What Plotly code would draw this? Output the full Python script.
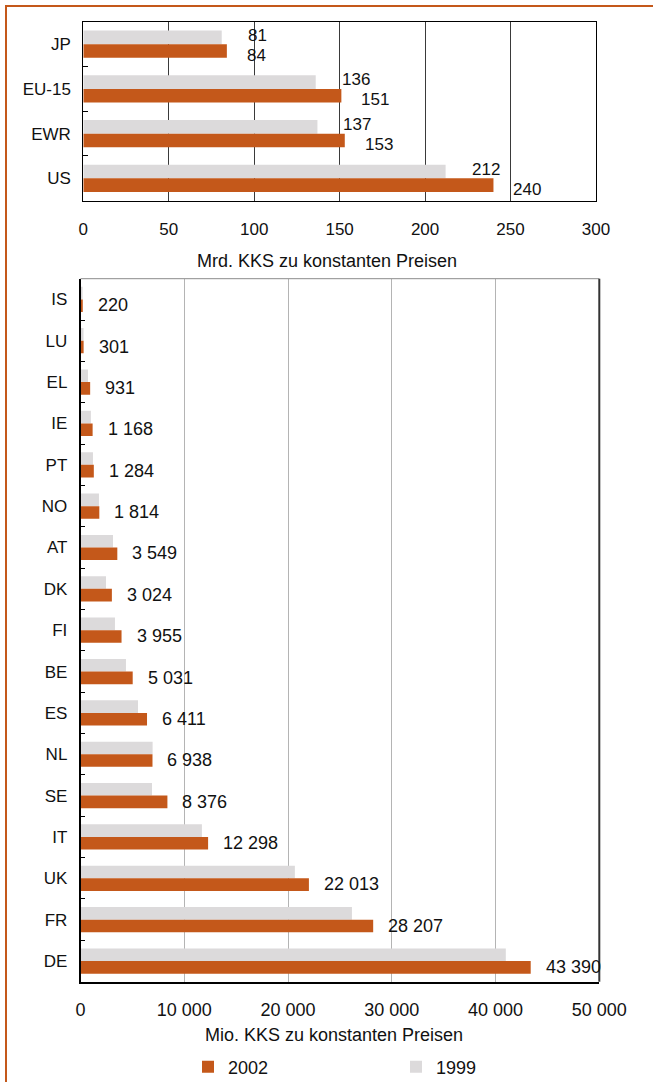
import plotly.graph_objects as go

# ---------------- data ----------------
top_regions = ["JP", "EU-15", "EWR", "US"]
top_1999 = [81, 136, 137, 212]
top_2002 = [84, 151, 153, 240]

countries = ["IS", "LU", "EL", "IE", "PT", "NO", "AT", "DK", "FI", "BE",
             "ES", "NL", "SE", "IT", "UK", "FR", "DE"]
c_1999 = [200, 290, 720, 1000, 1200, 1780, 3130, 2460, 3320, 4380,
          5540, 6950, 6890, 11700, 20660, 26160, 40990]
c_2002 = [220, 301, 931, 1168, 1284, 1814, 3549, 3024, 3955, 5031,
          6411, 6938, 8376, 12298, 22013, 28207, 43390]

year_names = ["1999", "2002"]
top_title = "Mrd. KKS zu konstanten Preisen"
bottom_title = "Mio. KKS zu konstanten Preisen"

# ---------------- style ----------------
W, H = 653, 1082
ORANGE = "#C4581A"
GREY = "#DCDADB"
FONT = "Liberation Sans, Arial, sans-serif"


def fmt(v):
    return f"{v:,}".replace(",", " ")


fig = go.Figure()

# top chart
fig.add_trace(go.Bar(y=top_regions, x=top_1999, orientation="h", name=year_names[0],
                     marker=dict(color=GREY, line=dict(width=0)), xaxis="x", yaxis="y",
                     showlegend=False, hoverinfo="skip"))
fig.add_trace(go.Bar(y=top_regions, x=top_2002, orientation="h", name=year_names[1],
                     marker=dict(color=ORANGE, line=dict(width=0)), xaxis="x", yaxis="y",
                     showlegend=False, hoverinfo="skip"))
# bottom chart
fig.add_trace(go.Bar(y=countries, x=c_1999, orientation="h", name=year_names[0],
                     marker=dict(color=GREY, line=dict(width=0)), xaxis="x2", yaxis="y2",
                     showlegend=True, hoverinfo="skip"))
fig.add_trace(go.Bar(y=countries, x=c_2002, orientation="h", name=year_names[1],
                     marker=dict(color=ORANGE, line=dict(width=0)), xaxis="x2", yaxis="y2",
                     showlegend=True, hoverinfo="skip"))

annotations = []
for r, v in zip(top_regions, top_1999):
    annotations.append(dict(x=v, y=r, xref="x", yref="y", text=fmt(v), showarrow=False,
                            xanchor="left", yanchor="middle", xshift=24, yshift=9,
                            font=dict(size=17, color="#111", family=FONT)))
for r, v in zip(top_regions, top_2002):
    annotations.append(dict(x=v, y=r, xref="x", yref="y", text=fmt(v), showarrow=False,
                            xanchor="left", yanchor="middle", xshift=18, yshift=-11,
                            font=dict(size=17, color="#111", family=FONT)))
for c, v in zip(countries, c_2002):
    annotations.append(dict(x=v, y=c, xref="x2", yref="y2", text=fmt(v), showarrow=False,
                            xanchor="left", yanchor="middle", xshift=13, yshift=-6,
                            font=dict(size=18, color="#111", family=FONT)))
annotations.append(dict(x=327 / W, y=1 - 261 / H, xref="paper", yref="paper", text=top_title,
                        showarrow=False, xanchor="center", yanchor="middle",
                        font=dict(size=18, color="#111", family=FONT)))
annotations.append(dict(x=334 / W, y=1 - 1035 / H, xref="paper", yref="paper", text=bottom_title,
                        showarrow=False, xanchor="center", yanchor="middle",
                        font=dict(size=18, color="#111", family=FONT)))

shapes = [
    # outer frame
    dict(type="rect", xref="paper", yref="paper", x0=6 / W, x1=1.2, y0=-0.2, y1=1 - 6 / H,
         line=dict(color=ORANGE, width=2), fillcolor="rgba(0,0,0,0)", layer="above"),
    # bottom chart top and right frame lines
    dict(type="line", xref="x2 domain", yref="y2 domain", x0=0, x1=1, y0=1, y1=1,
         line=dict(color="#8c8c8c", width=1), layer="above"),
    dict(type="line", xref="x2 domain", yref="y2 domain", x0=1, x1=1, y0=0, y1=1,
         line=dict(color="#333333", width=2), layer="above"),
]

fig.update_layout(
    template="none",
    width=W, height=H,
    margin=dict(l=0, r=0, t=0, b=0, autoexpand=False),
    paper_bgcolor="white", plot_bgcolor="white",
    font=dict(family=FONT, color="#111"),
    barmode="group", bargap=0.39, bargroupgap=0,
    separators=", ",
    annotations=annotations,
    shapes=shapes,
    legend=dict(orientation="h", x=188 / W, y=1 - 1067 / H, xanchor="left", yanchor="middle",
                traceorder="reversed", font=dict(size=18, family=FONT, color="#111"),
                entrywidth=163, bgcolor="rgba(0,0,0,0)", borderwidth=0),
    xaxis=dict(domain=[83.3 / W, 596 / W], range=[0, 300], dtick=50, tick0=0,
               showgrid=True, gridcolor="#3a3a3a", gridwidth=1, automargin=False,
               showline=True, mirror=True, linecolor="black", linewidth=1,
               zeroline=False, ticks="", ticklabelstandoff=13,
               tickfont=dict(size=17, family=FONT, color="#111"), anchor="y", fixedrange=True),
    yaxis=dict(domain=[1 - 200.7 / H, 1 - 21.7 / H], categoryorder="array",
               categoryarray=top_regions, autorange="reversed", automargin=False,
               showline=True, mirror=True, linecolor="black", linewidth=1,
               showgrid=False, zeroline=False, ticks="inside", tickson="boundaries",
               ticklen=5, tickcolor="black", ticklabelstandoff=8,
               tickfont=dict(size=17, family=FONT, color="#111"), anchor="x", fixedrange=True),
    xaxis2=dict(domain=[80.5 / W, 599.3 / W], range=[0, 50000], dtick=10000, tick0=0,
                tickformat=",", showgrid=True, gridcolor="#b4b4b4", gridwidth=1, automargin=False,
                showline=True, linecolor="black", linewidth=1.5,
                zeroline=False, ticks="", ticklabelstandoff=11,
                tickfont=dict(size=18, family=FONT, color="#111"), anchor="y2", fixedrange=True),
    yaxis2=dict(domain=[1 - 981.7 / H, 1 - 278.7 / H], categoryorder="array",
                categoryarray=countries, autorange="reversed", automargin=False,
                showline=True, linecolor="black", linewidth=1.5,
                showgrid=False, zeroline=False, ticks="inside", tickson="boundaries",
                ticklen=5, tickcolor="black", ticklabelstandoff=8,
                tickfont=dict(size=17, family=FONT, color="#111"), anchor="x2", fixedrange=True),
)

fig.write_html("out.html")
